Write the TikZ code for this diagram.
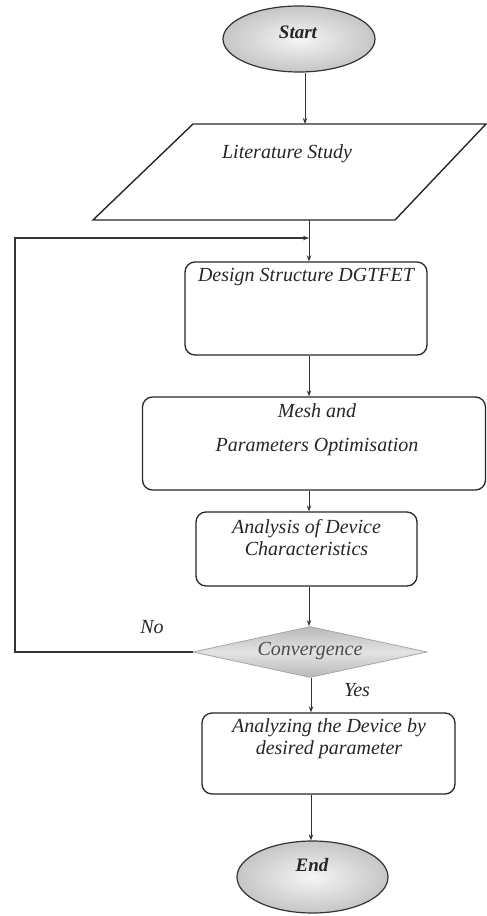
\documentclass[tikz,border=0pt]{standalone}
\usepackage{fontspec}
\setmainfont{Liberation Serif}
\usetikzlibrary{shapes.geometric,arrows.meta,calc}
\begin{document}
\begin{tikzpicture}[x=1pt,y=-1pt,
  every node/.style={font=\fontsize{20}{22}\selectfont\itshape, text=black!85},
  term/.style={ellipse, draw=black!80, line width=1.2pt, inner color=gray!8, outer color=gray!45, inner sep=0pt},
  procbox/.style={draw=black!85, line width=1.3pt, rounded corners=10pt, inner sep=0pt},
  txt/.style={inner sep=0pt, align=center},
  ttxt/.style={inner sep=0pt, font=\fontsize{19}{22}\selectfont\bfseries\itshape},
  arr/.style={draw=black!80, line width=1pt, -{Stealth[length=6pt,width=4.5pt]}},
  decision/.style={diamond, aspect=4.6, inner sep=0pt, draw=gray!70, line width=0.8pt,
    top color=gray!55, bottom color=gray!55, middle color=gray!22}
]
\useasboundingbox (0,0) rectangle (487,916);

% Start
\node[term, minimum width=152pt, minimum height=66pt] (start) at (299,39) {};
\node[ttxt] (starttxt) at (298,32) {Start};

% Literature Study (parallelogram)
\coordinate (p1) at (193,124);
\coordinate (p2) at (486,124);
\coordinate (p3) at (395,220);
\coordinate (p4) at (93,220);
\draw[draw=black!85, line width=1.4pt] (p1) -- (p2) -- (p3) -- (p4) -- cycle;
\node[txt] (littxt) at (287,154) {Literature Study};

% Design Structure
\node[procbox, minimum width=242pt, minimum height=93pt] (design) at (306,308.5) {};
\node[txt] (designtxt) at (306,277) {Design Structure DGTFET};

% Mesh
\node[procbox, minimum width=343pt, minimum height=93pt] (mesh) at (314,443.5) {};
\node[txt, font=\fontsize{20}{34}\selectfont\itshape] (meshtxt) at (317,430) {Mesh and\\Parameters Optimisation};

% Analysis
\node[procbox, minimum width=221pt, minimum height=74pt] (anal) at (306.5,549) {};
\node[txt] (analtxt) at (306.5,538) {Analysis of Device\\Characteristics};

% Convergence
\node[decision, minimum width=234pt, minimum height=51pt] (dec) at (310,652) {};
\node[txt, text=black!70] (dectxt) at (310,651) {Convergence};

% Analyzing
\node[procbox, minimum width=253pt, minimum height=81pt] (anz) at (328.5,753.5) {};
\node[txt] (anztxt) at (329,739) {Analyzing the Device by\\desired parameter};

% End
\node[term, minimum width=151pt, minimum height=72pt] (end) at (312.5,877) {};
\node[ttxt] (endtxt) at (312,865) {End};

% labels
\node[txt] (no) at (152,627) {No};
\node[txt] (yes) at (357,690) {Yes};

% connectors
\coordinate (c1) at (305,0);
\coordinate (col) at (309,0);
\coordinate (c2) at (311,0);
\coordinate (fb) at (15,238);
\draw[arr] (start.south -| c1) -- (p1 -| c1);
\draw[arr] (p4 -| col) -- (design.north -| col);
\draw[arr] (design.south -| col) -- (mesh.north -| col);
\draw[arr] (mesh.south -| col) -- (anal.north -| col);
\draw[arr] (anal.south -| col) -- (dec.north -| col);
\draw[arr] (dec.south -| c2) -- (anz.north -| c2);
\draw[arr] (anz.south -| c2) -- (end.north -| c2);
\draw[arr, line width=1.3pt] (dec.west) -- (dec.west -| fb) -- (fb) -- (fb -| col);
\end{tikzpicture}
\end{document}
